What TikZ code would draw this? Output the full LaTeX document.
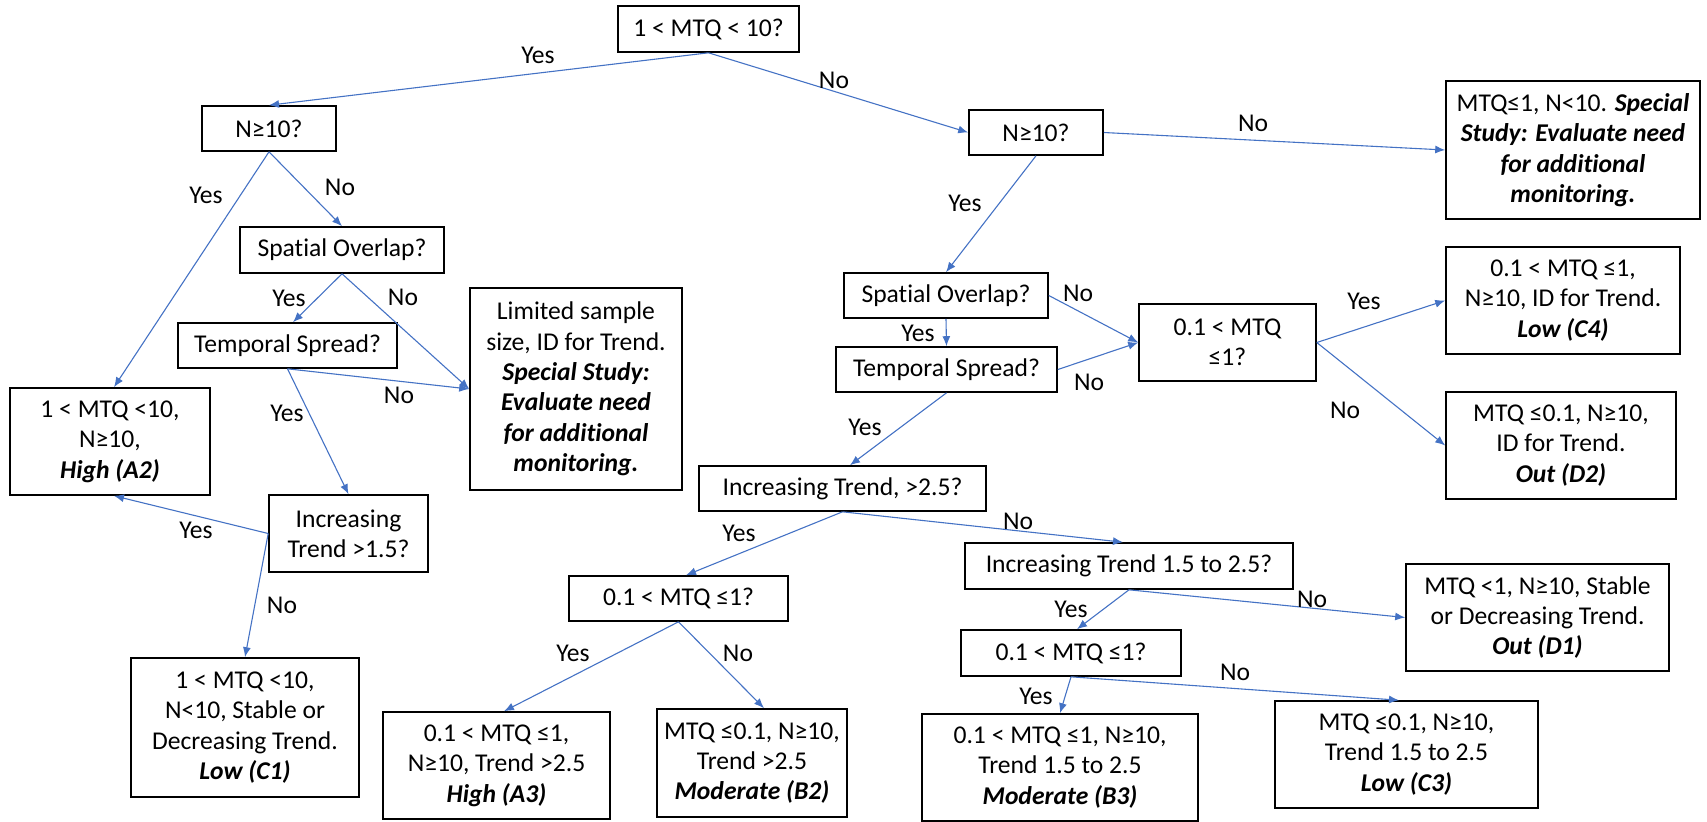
\documentclass[tikz,border=0pt]{standalone}
\usepackage{fontspec}
\setmainfont{Carlito}[Ligatures=NoCommon]
\usetikzlibrary{arrows.meta}
\definecolor{edgeblue}{HTML}{4472C4}
\newcommand\bi[1]{\textbf{\textit{#1}}}
\begin{document}
\begin{tikzpicture}[x=0.5pt,y=-0.5pt,
 box/.style={draw=black,line width=0.8pt,align=center,inner sep=0pt,font=\fontsize{12.8}{15.2}\selectfont},
 lbl/.style={inner sep=0pt,font=\fontsize{12.8}{15.2}\selectfont},
 arr/.style={draw=edgeblue,line width=0.55pt,-{Latex[length=5pt,width=4pt]}}]
\useasboundingbox (0,0) rectangle (1707,821);
% boxes
\node[box,minimum width=90.5pt,minimum height=23pt] (top) at (708.5,29) {1 < MTQ < 10?};
\node[box,minimum width=67pt,minimum height=22.5pt] (nL) at (269,128.5) {N≥10?};
\node[box,minimum width=102pt,minimum height=23pt] (spL) at (342,250) {Spatial Overlap?};
\node[box,minimum width=109.5pt,minimum height=22.5pt] (tpL) at (287.5,345.5) {Temporal Spread?};
\node[box,minimum width=106pt,minimum height=101pt] (lim) at (576,389) {Limited sample\\ size, ID for Trend.\\ \bi{Special Study:}\\ \bi{Evaluate need}\\ \bi{for additional}\\ \bi{monitoring.}};
\node[box,minimum width=100pt,minimum height=53.5pt] (A2) at (110,441.5) {1 < MTQ <10,\\ N≥10,\\ \bi{High (A2)}};
\node[box,minimum width=79.5pt,minimum height=38.5pt] (inc15) at (348.5,533.5) {Increasing\\ Trend >1.5?};
\node[box,minimum width=114pt,minimum height=69.5pt] (C1) at (245,727.5) {1 < MTQ <10,\\ N<10, Stable or\\ Decreasing Trend.\\ \bi{Low (C1)}};
\node[box,minimum width=67pt,minimum height=22.5pt] (nR) at (1036,132.5) {N≥10?};
\node[box,minimum width=127pt,minimum height=69pt] (spec) at (1573,150) {MTQ≤1, N<10. \bi{Special}\\ \bi{Study: Evaluate need}\\ \bi{for additional}\\ \bi{monitoring.}};
\node[box,minimum width=102pt,minimum height=22.5pt] (spR) at (946,295.5) {Spatial Overlap?};
\node[box,minimum width=110.5pt,minimum height=22.5pt] (tpR) at (946.5,369.5) {Temporal Spread?};
\node[box,minimum width=88.5pt,minimum height=38.5pt] (q1) at (1227.5,342.5) {0.1 < MTQ\\ ≤1?};
\node[box,minimum width=117pt,minimum height=53.5pt] (C4) at (1563,300.5) {0.1 < MTQ ≤1,\\ N≥10, ID for Trend.\\ \bi{Low (C4)}};
\node[box,minimum width=115pt,minimum height=53.5pt] (D2) at (1561,445.5) {MTQ ≤0.1, N≥10,\\ ID for Trend.\\ \bi{Out (D2)}};
\node[box,minimum width=143.5pt,minimum height=22.5pt] (inc25) at (842.5,488.5) {Increasing Trend, >2.5?};
\node[box,minimum width=109.5pt,minimum height=22.5pt] (q2) at (678.5,598.5) {0.1 < MTQ ≤1?};
\node[box,minimum width=113.5pt,minimum height=53.5pt] (A3) at (496.5,765.5) {0.1 < MTQ ≤1,\\ N≥10, Trend >2.5\\ \bi{High (A3)}};
\node[box,minimum width=95pt,minimum height=54pt] (B2) at (752,763) {MTQ ≤0.1, N≥10,\\ Trend >2.5\\ \bi{Moderate (B2)}};
\node[box,minimum width=164pt,minimum height=23pt] (inc1525) at (1129,566) {Increasing Trend 1.5 to 2.5?};
\node[box,minimum width=131.5pt,minimum height=53.5pt] (D1) at (1537.5,617.5) {MTQ <1, N≥10, Stable\\ or Decreasing Trend.\\ \bi{Out (D1)}};
\node[box,minimum width=110pt,minimum height=23pt] (q3) at (1071,653) {0.1 < MTQ ≤1?};
\node[box,minimum width=138pt,minimum height=53.5pt] (B3) at (1060,767.5) {0.1 < MTQ ≤1, N≥10,\\ Trend 1.5 to 2.5\\ \bi{Moderate (B3)}};
\node[box,minimum width=131.5pt,minimum height=53.5pt] (C3) at (1406.5,754.5) {MTQ ≤0.1, N≥10,\\ Trend 1.5 to 2.5\\ \bi{Low (C3)}};
% edges
\draw[arr] (top.south) -- (nL.north);
\draw[arr] (top.south) -- (nR.west);
\draw[arr] (nL.south) -- ([xshift=2pt]A2.north);
\draw[arr] (nL.south) -- (spL.north);
\draw[arr] (spL.south) -- ([xshift=2.75pt]tpL.north);
\draw[arr] (spL.south) -- (lim.west);
\draw[arr] (tpL.south) -- (lim.west);
\draw[arr] (tpL.south) -- (inc15.north);
\draw[arr] (inc15.west) -- ([xshift=2pt]A2.south);
\draw[arr] (inc15.west) -- (C1.north);
\draw[arr] (nR.east) -- (spec.west);
\draw[arr] (nR.south) -- (spR.north);
\draw[arr] (spR.east) -- (q1.west);
\draw[arr] (spR.south) -- (tpR.north);
\draw[arr] (tpR.east) -- (q1.west);
\draw[arr] (q1.east) -- (C4.west);
\draw[arr] (q1.east) -- (D2.west);
\draw[arr] (tpR.south) -- ([xshift=3.75pt]inc25.north);
\draw[arr] (inc25.south) -- ([xshift=3.75pt]q2.north);
\draw[arr] (inc25.south) -- ([xshift=-3pt]inc1525.north);
\draw[arr] (q2.south) -- ([xshift=3.75pt]A3.north);
\draw[arr] (q2.south) -- ([xshift=6pt]B2.north);
\draw[arr] (inc1525.south) -- ([xshift=3pt]q3.north);
\draw[arr] (inc1525.south) -- (D1.west);
\draw[arr] (q3.south) -- (B3.north);
\draw[arr] (q3.south) -- ([xshift=-3.75pt]C3.north);
% labels
\node[lbl] (l1) at (538,55) {Yes};
\node[lbl] (l2) at (834,80) {No};
\node[lbl] (l3) at (206,195) {Yes};
\node[lbl] (l4) at (340,187) {No};
\node[lbl] (l5) at (289,298) {Yes};
\node[lbl] (l6) at (403,297) {No};
\node[lbl] (l7) at (399,395) {No};
\node[lbl] (l8) at (287,413) {Yes};
\node[lbl] (l9) at (196,530) {Yes};
\node[lbl] (l10) at (282,605) {No};
\node[lbl] (l11) at (1253,123) {No};
\node[lbl] (l12) at (965,203) {Yes};
\node[lbl] (l13) at (1078,293) {No};
\node[lbl] (l14) at (918,333) {Yes};
\node[lbl] (l15) at (1089,382) {No};
\node[lbl] (l16) at (1364,301) {Yes};
\node[lbl] (l17) at (1345,410) {No};
\node[lbl] (l18) at (865,427) {Yes};
\node[lbl] (l19) at (739,533) {Yes};
\node[lbl] (l20) at (1018,521) {No};
\node[lbl] (l21) at (573,653) {Yes};
\node[lbl] (l22) at (738,653) {No};
\node[lbl] (l23) at (1071,609) {Yes};
\node[lbl] (l24) at (1312,599) {No};
\node[lbl] (l25) at (1036,696) {Yes};
\node[lbl] (l26) at (1235,672) {No};
\end{tikzpicture}
\end{document}
